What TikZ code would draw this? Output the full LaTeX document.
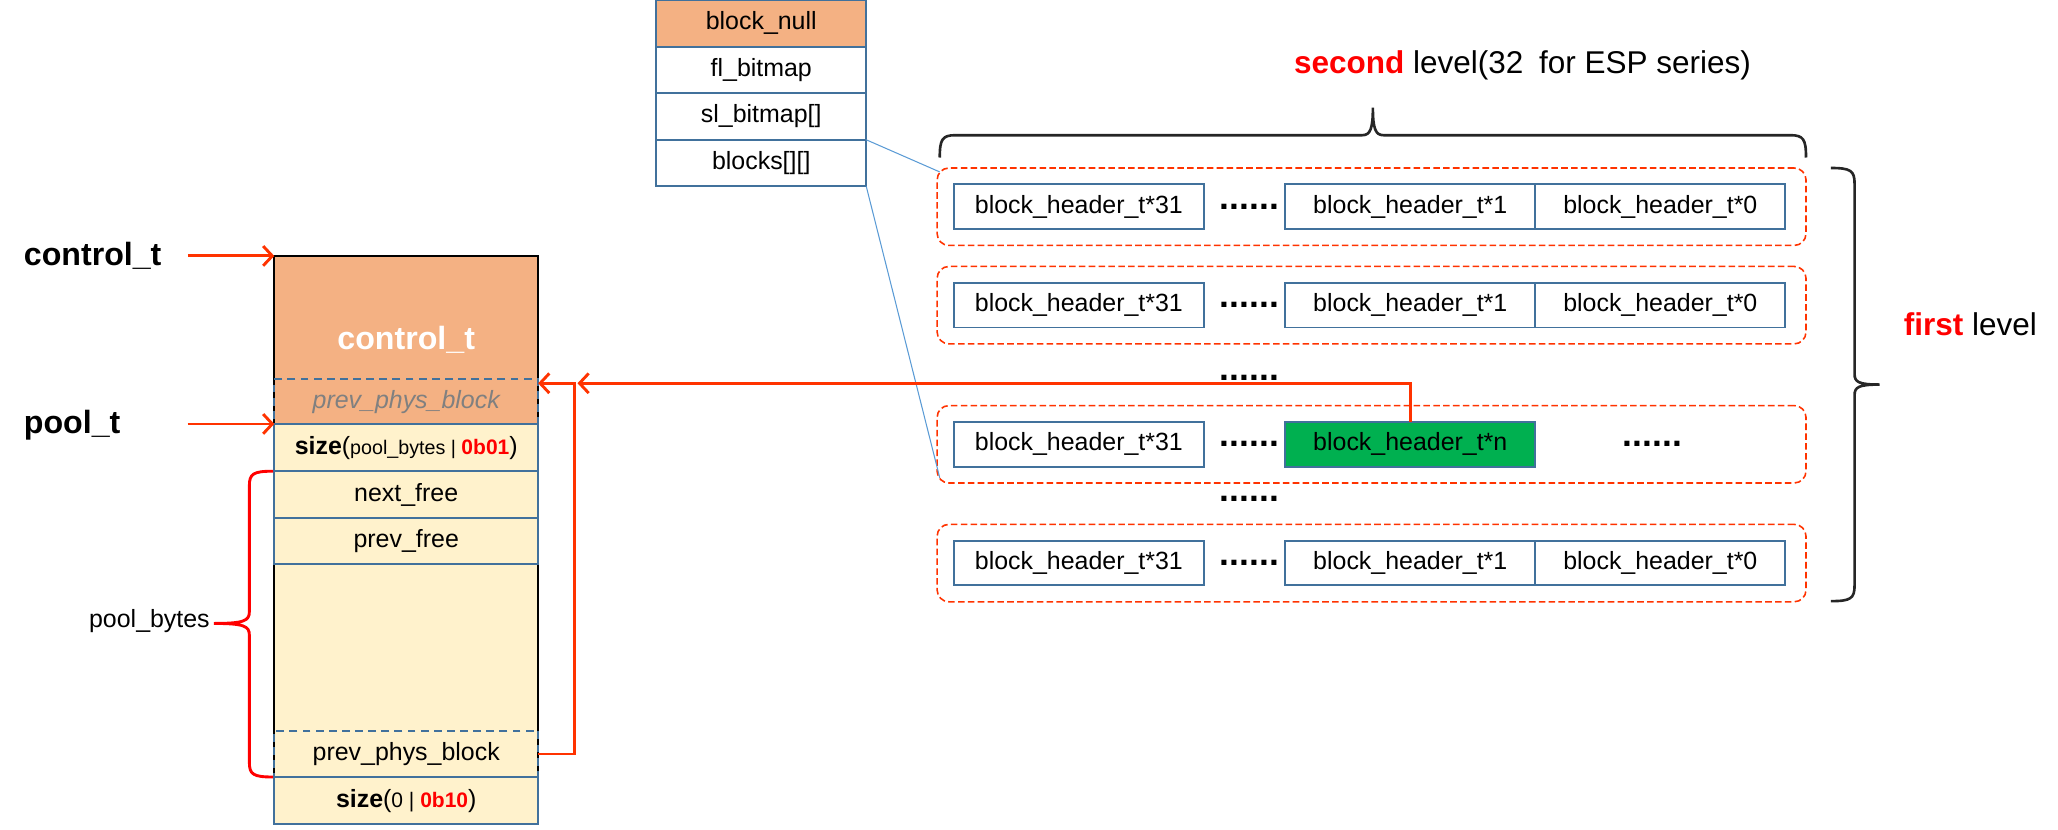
\documentclass[tikz,border=0pt]{standalone}
\usepackage{fontspec}
\setmainfont{Liberation Sans}
\usetikzlibrary{positioning,arrows.meta}

\definecolor{hdrorange}{HTML}{F4B183}
\definecolor{memyellow}{HTML}{FFF2CC}
\definecolor{cellblue}{HTML}{41719C}
\definecolor{linkred}{HTML}{FF3300}
\definecolor{freegreen}{HTML}{00B050}
\definecolor{thinblue}{HTML}{5B9BD5}
\newcommand{\setfs}[1]{\fontsize{#1}{#1}\selectfont}

\begin{document}
\begin{tikzpicture}[x=1pt,y=-1pt,
        cell/.style={draw=cellblue,line width=1.4pt,inner sep=0pt,outer sep=0pt,
                     minimum width=201,minimum height=35.5,font=\setfs{19}},
        memcell/.style={cell,fill=memyellow},
        linkcell/.style={cell,dash pattern=on 6pt off 4pt},
        tblcell/.style={cell,fill=white,minimum width=160},
        hdr/.style={cell,fill=white,minimum width=190.5,minimum height=34},
        level/.style={draw=linkred,line width=1.2pt,dash pattern=on 5pt off 2.5pt,rounded corners=9pt,
                      minimum width=662,minimum height=59,inner sep=0pt,outer sep=0pt},
        dots/.style={font=\setfs{27}\bfseries,inner sep=0pt},
        ptr/.style={draw=linkred,line width=2.2pt,-{Straight Barb[length=7pt,width=15pt]}},
        tolevel/.style={draw=thinblue,line width=0.8pt},
        bigbrace/.style={draw=black!85,line width=2pt}]
        \useasboundingbox (0,0) rectangle (1568,632);

        % control_t table
        \node[tblcell,fill=hdrorange] at (580,17.75) (bnull) {block\_null};
        \node[tblcell,below=0pt of bnull] (flbm) {fl\_bitmap};
        \node[tblcell,below=0pt of flbm] (slbm) {sl\_bitmap[]};
        \node[tblcell,below=0pt of slbm] (blocks) {blocks[][]};

        % memory of the pool
        \node[draw=black,line width=1.4pt,fill=hdrorange,minimum width=201,minimum height=128,
              inner sep=0pt,outer sep=0pt,text=white,font=\setfs{24.5}\bfseries] at (309.5,259) (ctrl) {control\_t};
        \node[draw=black,line width=1.4pt,fill=memyellow,minimum width=201,minimum height=304,
              inner sep=0pt,outer sep=0pt] at (309.5,475) (pool) {};
        \node[linkcell,text=black!50,font=\setfs{19}\itshape,minimum height=34] at (309.5,306) (pbtop) {prev\_phys\_block};
        \node[memcell,minimum height=36] at (309.5,341) (size1)
             {\textbf{size}({\setfs{15}pool\_bytes | \textcolor{red}{\bfseries\setfs{16}0b01}})};
        \node[memcell,below=0pt of size1] (nf) {next\_free};
        \node[memcell,below=0pt of nf] (pf) {prev\_free};
        \node[linkcell] at (309.5,574.5) (pb) {prev\_phys\_block};
        \node[memcell,below=0pt of pb] (size0)
             {\textbf{size}({\setfs{16}0 | \textcolor{red}{\bfseries 0b10}})};

        \node[font=\setfs{24.5}\bfseries,anchor=west,inner sep=0pt] at (18,195) (ctrllbl) {control\_t};
        \node[font=\setfs{24.5}\bfseries,anchor=west,inner sep=0pt] at (18,324) (poollbl) {pool\_t};
        \node[font=\setfs{19},anchor=east,inner sep=0pt] at (160,473) (bytes) {pool\_bytes};
        \draw[ptr] ([xshift=20pt]ctrllbl.east) -- (ctrl.north west);
        \draw[ptr] (143,323) -- (size1.north west);
        \draw[draw=red,line width=2.2pt] (208,359) .. controls (193,359) and (190,361) .. (190,370) -- (190,466)
              .. controls (190,473) and (186,475) .. (163,475) .. controls (186,475) and (190,477) .. (190,484)
              -- (190,581) .. controls (190,590) and (193,592) .. (208,592);

        % first level lists
        \node[level] at (1045,157.5) (r1) {};
        \node[level] at (1045,232.5) (r2) {};
        \node[level] at (1045,338.5) (r3) {};
        \node[level] at (1045,429) (r4) {};

        \node[hdr] at (822,157.5) (a31) {block\_header\_t*31};
        \node[dots] at (952,157.5) (adots) {......};
        \node[hdr] at (1074.5,157.5) (a1) {block\_header\_t*1};
        \node[hdr,right=0pt of a1] (a0) {block\_header\_t*0};

        \node[hdr] at (822,232.5) (b31) {block\_header\_t*31};
        \node[dots] at (952,232.5) (bdots) {......};
        \node[hdr] at (1074.5,232.5) (b1) {block\_header\_t*1};
        \node[hdr,right=0pt of b1] (b0) {block\_header\_t*0};

        \node[hdr] at (822,338.5) (c31) {block\_header\_t*31};
        \node[dots] at (952,338.5) (cdots) {......};
        \node[hdr,fill=freegreen] at (1074.5,338.5) (cn) {block\_header\_t*n};
        \node[dots] at (1259,338.5) (cmore) {......};

        \node[hdr] at (822,429) (d31) {block\_header\_t*31};
        \node[dots] at (952,429) (ddots) {......};
        \node[hdr] at (1074.5,429) (d1) {block\_header\_t*1};
        \node[hdr,right=0pt of d1] (d0) {block\_header\_t*0};

        \node[dots] at (952,288) (gap1) {......};
        \node[dots] at (952,380) (gap2) {......};

        \draw[tolevel] (blocks.north east) -- ([shift={(2,3)}]r1.north west);
        \draw[tolevel] (blocks.south east) -- ([shift={(2,-4)}]r3.south west);

        % links of prev_phys_block
        \coordinate (back) at (438,292);
        \draw[ptr] (pb.east) -| (back) -- (ctrl.east |- back);
        \draw[ptr] (cn.north) |- ([xshift=2pt]back);

        % levels
        \draw[bigbrace] (716,120) .. controls (716,106) and (718,103) .. (728,103) -- (1038,103)
              .. controls (1044,103) and (1046,98) .. (1046,82) .. controls (1046,98) and (1048,103) .. (1054,103)
              -- (1364,103) .. controls (1374,103) and (1376,106) .. (1376,120);
        \draw[bigbrace] (1395,128) .. controls (1410,128) and (1413,130) .. (1413,140) -- (1413,285)
              .. controls (1413,291) and (1416,293) .. (1432,293) .. controls (1416,293) and (1413,295) .. (1413,301)
              -- (1413,446) .. controls (1413,456) and (1410,458) .. (1395,458);
        \node[font=\setfs{24}] at (1160,50) (second) {\textcolor{red}{\bfseries second} level(32\enspace for ESP series)};
        \node[font=\setfs{24},anchor=west] at (1447,247) (first) {\textcolor{red}{\bfseries first} level};

        %\draw (pf.east) -- (cn.west);
    \end{tikzpicture}
\end{document}
